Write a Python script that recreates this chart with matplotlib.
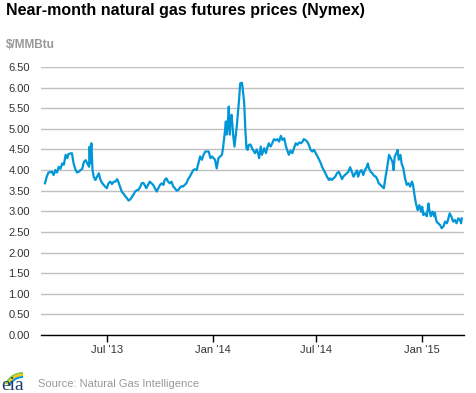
import matplotlib
matplotlib.use("Agg")
import matplotlib.pyplot as plt
import matplotlib.dates as mdates
from matplotlib.patches import Arc
import numpy as np
import pandas as pd

dates = [
    "2013-03-14", "2013-03-17", "2013-03-20", "2013-03-26", "2013-03-29", "2013-04-01", "2013-04-04",
    "2013-04-07", "2013-04-10", "2013-04-13", "2013-04-16", "2013-04-19", "2013-04-22", "2013-04-24",
    "2013-04-30", "2013-05-03", "2013-05-06", "2013-05-09", "2013-05-12", "2013-05-15", "2013-05-18",
    "2013-05-21", "2013-05-24", "2013-05-27", "2013-05-30", "2013-05-31", "2013-06-01", "2013-06-03",
    "2013-06-05", "2013-06-07", "2013-06-10", "2013-06-13", "2013-06-16", "2013-06-19", "2013-06-22",
    "2013-06-27", "2013-06-30", "2013-07-03", "2013-07-06", "2013-07-09", "2013-07-12", "2013-07-15",
    "2013-07-18", "2013-07-20", "2013-07-23", "2013-07-26", "2013-07-29", "2013-08-01", "2013-08-04",
    "2013-08-07", "2013-08-10", "2013-08-13", "2013-08-15", "2013-08-18", "2013-08-21", "2013-08-24",
    "2013-08-27", "2013-08-30", "2013-09-02", "2013-09-04", "2013-09-07", "2013-09-10", "2013-09-13",
    "2013-09-16", "2013-09-19", "2013-09-22", "2013-09-25", "2013-09-28", "2013-10-01", "2013-10-04",
    "2013-10-07", "2013-10-09", "2013-10-12", "2013-10-15", "2013-10-18", "2013-10-21", "2013-10-24",
    "2013-10-27", "2013-10-30", "2013-11-02", "2013-11-05", "2013-11-08", "2013-11-10", "2013-11-13",
    "2013-11-16", "2013-11-19", "2013-11-22", "2013-11-25", "2013-11-28", "2013-12-01", "2013-12-04",
    "2013-12-07", "2013-12-10", "2013-12-13", "2013-12-16", "2013-12-19", "2013-12-25", "2013-12-28",
    "2013-12-31", "2014-01-05", "2014-01-08", "2014-01-11", "2014-01-14", "2014-01-17", "2014-01-19",
    "2014-01-22", "2014-01-24", "2014-01-25", "2014-01-27", "2014-01-29", "2014-01-31", "2014-02-01",
    "2014-02-03", "2014-02-06", "2014-02-08", "2014-02-10", "2014-02-12", "2014-02-14", "2014-02-16",
    "2014-02-18", "2014-02-21", "2014-02-22", "2014-02-25", "2014-02-27", "2014-03-01", "2014-03-03",
    "2014-03-05", "2014-03-08", "2014-03-11", "2014-03-14", "2014-03-16", "2014-03-19", "2014-03-22",
    "2014-03-23", "2014-03-26", "2014-03-28", "2014-04-01", "2014-04-04", "2014-04-06", "2014-04-09",
    "2014-04-12", "2014-04-15", "2014-04-18", "2014-04-21", "2014-04-24", "2014-04-27", "2014-04-30",
    "2014-05-03", "2014-05-06", "2014-05-09", "2014-05-11", "2014-05-14", "2014-05-17", "2014-05-20",
    "2014-05-23", "2014-05-26", "2014-05-29", "2014-06-01", "2014-06-04", "2014-06-07", "2014-06-09",
    "2014-06-12", "2014-06-15", "2014-06-18", "2014-06-21", "2014-06-24", "2014-06-27", "2014-06-30",
    "2014-07-03", "2014-07-06", "2014-07-09", "2014-07-11", "2014-07-14", "2014-07-17", "2014-07-20",
    "2014-07-23", "2014-07-25", "2014-07-28", "2014-07-31", "2014-08-03", "2014-08-06", "2014-08-09",
    "2014-08-12", "2014-08-15", "2014-08-17", "2014-08-20", "2014-08-23", "2014-08-26", "2014-08-29",
    "2014-09-01", "2014-09-04", "2014-09-07", "2014-09-10", "2014-09-12", "2014-09-15", "2014-09-18",
    "2014-09-21", "2014-09-24", "2014-09-27", "2014-09-29", "2014-10-01", "2014-10-04", "2014-10-07",
    "2014-10-10", "2014-10-13", "2014-10-16", "2014-10-18", "2014-10-21", "2014-10-24", "2014-10-27",
    "2014-10-30", "2014-11-02", "2014-11-05", "2014-11-08", "2014-11-11", "2014-11-13", "2014-11-15",
    "2014-11-18", "2014-11-20", "2014-11-22", "2014-11-25", "2014-11-27", "2014-11-30", "2014-12-03",
    "2014-12-06", "2014-12-09", "2014-12-12", "2014-12-15", "2014-12-17", "2014-12-19", "2014-12-22",
    "2014-12-25", "2014-12-28", "2014-12-31", "2015-01-02", "2015-01-04", "2015-01-07", "2015-01-10",
    "2015-01-13", "2015-01-14", "2015-01-17", "2015-01-20", "2015-01-23", "2015-01-24", "2015-01-27",
    "2015-01-30", "2015-02-02", "2015-02-05", "2015-02-08", "2015-02-11", "2015-02-14", "2015-02-16",
    "2015-02-19", "2015-02-22", "2015-02-25", "2015-02-28", "2015-03-03", "2015-03-06", "2015-03-09",
    "2015-03-11", "2015-03-12",
]

prices = [
    3.68, 3.84, 3.94, 3.96, 3.88, 4.00, 3.94,
    4.08, 4.03, 4.16, 4.13, 4.37, 4.29, 4.39,
    4.41, 4.16, 4.02, 3.94, 3.96, 4.00, 4.03,
    4.20, 4.24, 4.16, 4.08, 4.57, 4.16, 4.65,
    4.00, 3.84, 3.76, 3.84, 3.92, 3.76, 3.68,
    3.60, 3.56, 3.68, 3.72, 3.66, 3.72, 3.72,
    3.78, 3.72, 3.60, 3.48, 3.43, 3.37, 3.32,
    3.26, 3.29, 3.35, 3.39, 3.47, 3.51, 3.52,
    3.58, 3.68, 3.69, 3.64, 3.56, 3.64, 3.72,
    3.68, 3.64, 3.56, 3.48, 3.56, 3.64, 3.68,
    3.64, 3.76, 3.80, 3.72, 3.68, 3.72, 3.60,
    3.56, 3.50, 3.52, 3.58, 3.61, 3.60, 3.64,
    3.68, 3.78, 3.84, 3.92, 4.00, 4.02, 4.00,
    4.16, 4.33, 4.25, 4.37, 4.45, 4.45, 4.29,
    4.33, 4.25, 4.04, 4.29, 4.33, 4.37, 4.53,
    4.90, 5.18, 4.86, 5.01, 5.54, 4.86, 5.26,
    5.34, 4.81, 4.57, 4.81, 5.06, 5.38, 5.70,
    6.10, 6.12, 6.03, 5.62, 4.98, 4.53, 4.49,
    4.61, 4.62, 4.52, 4.45, 4.41, 4.50, 4.37,
    4.29, 4.57, 4.37, 4.53, 4.41, 4.53, 4.65,
    4.57, 4.65, 4.75, 4.72, 4.75, 4.69, 4.83,
    4.73, 4.77, 4.57, 4.49, 4.37, 4.47, 4.41,
    4.53, 4.65, 4.61, 4.67, 4.65, 4.69, 4.75,
    4.73, 4.69, 4.61, 4.49, 4.45, 4.49, 4.41,
    4.33, 4.25, 4.16, 4.08, 4.00, 3.92, 3.83,
    3.76, 3.80, 3.76, 3.80, 3.84, 3.92, 3.96,
    3.88, 3.78, 3.84, 3.88, 3.92, 3.96, 4.07,
    3.96, 3.84, 3.92, 3.99, 3.84, 3.96, 4.00,
    3.88, 4.00, 4.07, 4.16, 4.04, 3.96, 3.92,
    3.86, 3.84, 3.76, 3.68, 3.64, 3.60, 3.56,
    3.84, 4.08, 4.37, 4.29, 4.20, 4.00, 4.33,
    4.41, 4.49, 4.25, 4.37, 4.16, 4.04, 3.80,
    3.64, 3.68, 3.60, 3.72, 3.64, 3.44, 3.19,
    3.03, 3.15, 2.99, 3.11, 2.91, 2.95, 2.88,
    3.19, 3.07, 2.88, 2.99, 2.88, 2.97, 2.75,
    2.71, 2.67, 2.59, 2.63, 2.75, 2.71, 2.79,
    2.95, 2.87, 2.75, 2.79, 2.71, 2.83, 2.79,
    2.71, 2.83,
]

x_ticks = ["2013-07-01", "2014-01-01", "2014-07-01", "2015-01-01"]
x_tick_labels = ["Jul '13", "Jan '14", "Jul '14", "Jan '15"]
y_ticks = [0.0, 0.5, 1.0, 1.5, 2.0, 2.5, 3.0, 3.5, 4.0, 4.5, 5.0, 5.5, 6.0, 6.5]
x_range = ["2013-03-07", "2015-03-16"]

plt.rcParams["font.family"] = ["Liberation Sans", "DejaVu Sans"]

W, H = 477, 393
fig = plt.figure(figsize=(W / 100, H / 100), dpi=100)
fig.patch.set_facecolor("white")
ax = fig.add_axes([41 / W, 1 - 335 / H, (464 - 41) / W, (335 - 67) / H])

x = pd.to_datetime(dates)
ax.plot(x, prices, color="#0096d7", lw=1.6, solid_joinstyle="round", zorder=3)

ax.set_ylim(0, 6.5)
ax.set_xlim(pd.Timestamp(x_range[0]), pd.Timestamp(x_range[1]))
ax.set_yticks(y_ticks)
ax.set_yticklabels([f"{v:.2f}" for v in y_ticks])
ax.set_xticks(pd.to_datetime(x_ticks))
ax.set_xticklabels(x_tick_labels)

ax.grid(axis="y", color="#c0c0c0", lw=1.0, zorder=0)
for s in ["top", "right", "left"]:
    ax.spines[s].set_visible(False)
ax.spines["bottom"].set_color("black")
ax.spines["bottom"].set_linewidth(1.0)
ax.spines["bottom"].set_zorder(4)
ax.tick_params(axis="y", length=0, pad=8, labelsize=8, labelcolor="#333333")
ax.tick_params(axis="x", length=5, width=1, color="black", pad=2, labelsize=8, labelcolor="#333333")

fig.text(6 / W, 1 - 10 / H, "Near-month natural gas futures prices (Nymex)", fontsize=11.5,
         fontweight="bold", color="black", ha="left", va="center")
fig.text(6 / W, 1 - 45 / H, "$/MMBtu", fontsize=8.5, fontweight="bold", color="#999999",
         ha="left", va="center")
fig.text(38 / W, 1 - 384 / H, "Source: Natural Gas Intelligence", fontsize=8, color="#999999",
         ha="left", va="center")

# eia logo
fig.text(1 / W, 1 - 390 / H, "eia", fontsize=14, family="Liberation Serif", color="#1f3a68",
         ha="left", va="baseline")
for r, c in [(19, "#8cc63f"), (17, "#f7c500"), (15, "#0096d7")]:
    arc = Arc((23 / W, 1 - 392 / H), 2 * r / W, 2 * r / H, theta1=90, theta2=150,
              transform=fig.transFigure, color=c, lw=1.4)
    fig.add_artist(arc)

fig.savefig("out.png", dpi=100)
